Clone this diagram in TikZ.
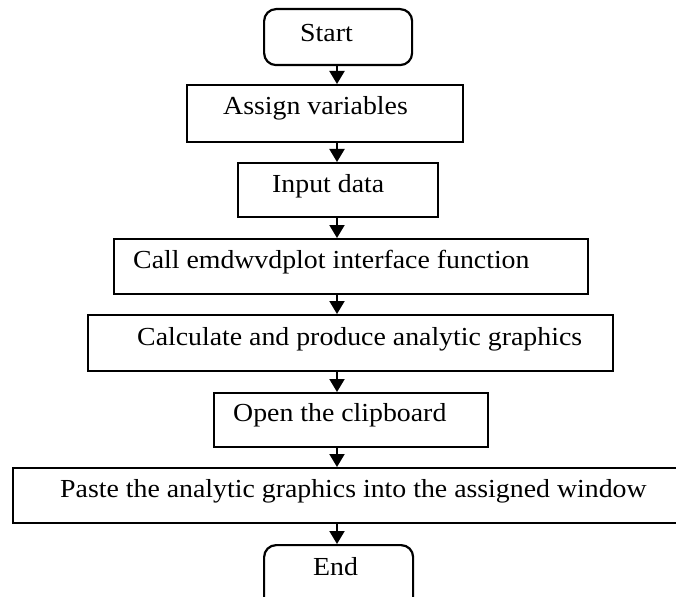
\documentclass[tikz,border=0pt]{standalone}
\usepackage{fontspec}
\setmainfont[FakeStretch=1.07]{Liberation Serif}
\usetikzlibrary{arrows.meta}
\begin{document}
\begin{tikzpicture}[x=1pt,y=-1pt,
  box/.style={draw, line width=2.2pt, inner sep=0pt, anchor=north west},
  term/.style={box, rounded corners=12pt},
  lbl/.style={anchor=base west, inner sep=0pt, font=\fontsize{26}{30}\selectfont},
  flow/.style={line width=2pt, -{Triangle[width=15pt,length=13pt]}}]
  \useasboundingbox (0,0) rectangle (676,596);

  % vertical axis of the flow
  \coordinate (axis) at (337,0);

  % boxes
  \node[term, minimum width=148pt, minimum height=56pt] (start)  at (263,8)   {};
  \node[box,  minimum width=276pt, minimum height=57pt] (assign) at (186,84)  {};
  \node[box,  minimum width=200pt, minimum height=54pt] (input)  at (237,162) {};
  \node[box,  minimum width=474pt, minimum height=55pt] (call)   at (113,238) {};
  \node[box,  minimum width=525pt, minimum height=56pt] (calc)   at (87,314)  {};
  \node[box,  minimum width=274pt, minimum height=54pt] (clip)   at (213,392) {};
  \node[box,  minimum width=678pt, minimum height=55pt] (paste)  at (12,467)  {};
  \node[term, minimum width=149pt, minimum height=66pt] (stop)   at (263,544) {};

  % labels
  \node[lbl] (tstart)  at (300,42)  {Start};
  \node[lbl] (tassign) at (223,115) {Assign variables};
  \node[lbl] (tinput)  at (272,192) {Input data};
  \node[lbl] (tcall)   at (133,268) {Call emdwvdplot interface function};
  \node[lbl] (tcalc)   at (137,345) {Calculate and produce analytic graphics};
  \node[lbl] (tclip)   at (233,421) {Open the clipboard};
  \node[lbl] (tpaste)  at (60,497)  {Paste the analytic graphics into the assigned window};
  \node[lbl] (tstop)   at (313,575) {End};

  % connectors
  \draw[flow] (start.south -| axis)  -- (assign.north -| axis);
  \draw[flow] (assign.south -| axis) -- (input.north -| axis);
  \draw[flow] (input.south -| axis)  -- (call.north -| axis);
  \draw[flow] (call.south -| axis)   -- (calc.north -| axis);
  \draw[flow] (calc.south -| axis)   -- (clip.north -| axis);
  \draw[flow] (clip.south -| axis)   -- (paste.north -| axis);
  \draw[flow] (paste.south -| axis)  -- (stop.north -| axis);
\end{tikzpicture}
\end{document}
